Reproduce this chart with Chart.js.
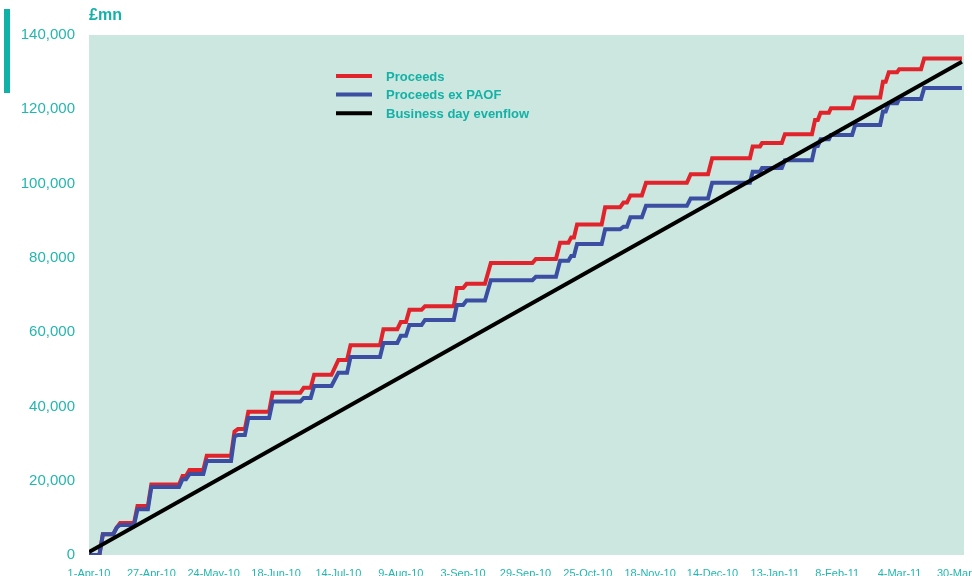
<!DOCTYPE html>
<html>
<head>
<meta charset="utf-8">
<script src="https://cdn.jsdelivr.net/npm/chart.js@4.4.1/dist/chart.umd.min.js"></script>
<style>
  html, body { margin: 0; padding: 0; background: #ffffff; }
  #wrap { width: 972px; height: 576px; }
</style>
</head>
<body>
<div id="wrap"><canvas id="chart" width="972" height="576"></canvas></div>
<script>
// Business-day axis: one label every 18 business days
const tickLabels = ['1-Apr-10', '27-Apr-10', '24-May-10', '18-Jun-10', '14-Jul-10', '9-Aug-10',
  '3-Sep-10', '29-Sep-10', '25-Oct-10', '18-Nov-10', '14-Dec-10', '13-Jan-11', '8-Feb-11',
  '4-Mar-11', '30-Mar-11'];
const tickEvery = 18;

// Cumulative proceeds (£mn), corner points of the step profile by business day
const stepDays = [0, 3, 4, 7, 8, 9, 13, 14, 17, 18, 26, 27, 28, 29, 33, 34, 41, 42, 43, 45, 46,
  52, 53, 61, 62, 64, 65, 70, 72, 74.5, 75.5, 84, 85, 89, 90, 91.5, 92.5, 96, 97, 105.3, 106.2,
  108, 109, 114.3, 116, 128, 129, 134.8, 136, 138.4, 139.2, 140, 140.9, 148, 149, 153.3, 154.3,
  155.3, 156.3, 159.6, 160.8, 172.6, 173.7, 178.7, 179.9, 190.8, 191.6, 193.7, 194.3, 200, 200.9,
  208.7, 209.6, 210.4, 211.2, 213.6, 214.2, 220.3, 221.2, 228.4, 229.2, 230, 230.9, 233.3, 233.9,
  240.2, 241.1, 252];

const proceeds = [0, 0, 5600, 5600, 7400, 8600, 8600, 13200, 13200, 19000, 19000, 21300, 21300,
  22900, 22900, 26700, 26700, 33200, 33900, 33900, 38600, 38600, 43700, 43700, 45000, 45000, 48500,
  48500, 52500, 52500, 56500, 56500, 60800, 60800, 62700, 62700, 66000, 66000, 67000, 67000, 71900,
  71900, 73000, 73000, 78600, 78600, 79700, 79700, 84100, 84100, 85500, 85500, 89000, 89000, 93600,
  93600, 94900, 94900, 96800, 96800, 100200, 100200, 102500, 102500, 106800, 106800, 110000, 110000,
  110900, 110900, 113300, 113300, 117100, 117100, 119100, 119100, 120300, 120300, 123200, 123200,
  127400, 127400, 130000, 130000, 130800, 130800, 133700, 133700];

const proceedsExPaof = [0, 0, 5600, 5600, 7400, 8100, 8100, 12300, 12300, 18300, 18300, 20400, 20400,
  21800, 21800, 25300, 25300, 31900, 32300, 32300, 36900, 36900, 41300, 41300, 42300, 42300, 45500,
  45500, 49100, 49100, 53300, 53300, 57100, 57100, 59000, 59000, 61900, 61900, 63300, 63300, 67300,
  67300, 68500, 68500, 74000, 74000, 74900, 74900, 79200, 79200, 80500, 80500, 83700, 83700, 87700,
  87700, 88400, 88400, 90900, 90900, 94000, 94000, 96000, 96000, 100200, 100200, 103200, 103200,
  104200, 104200, 106300, 106300, 110100, 110100, 111900, 111900, 113100, 113100, 115800, 115800,
  119400, 119400, 121600, 121600, 122800, 122800, 125700, 125700];

// Straight-line even flow across the business days
const evenflowDays = [0, 252];
const evenflow = [800, 132800];

const yTicks = { min: 0, max: 140000, step: 20000 };

const TEAL = '#14b1a7';
const TEAL_TICK = '#22b7ae';
const PLOT_BG = '#cbe7df';
const FONT = '"Liberation Sans", Arial, sans-serif';

const toPoints = (xs, ys) => xs.map((x, i) => ({ x: x, y: ys[i] }));

// Page furniture: plot background, side bar and unit label
const backdrop = {
  id: 'backdrop',
  beforeDraw(chart) {
    const { ctx, chartArea: a } = chart;
    ctx.save();
    ctx.fillStyle = '#ffffff';
    ctx.fillRect(0, 0, chart.width, chart.height);
    ctx.fillStyle = PLOT_BG;
    ctx.fillRect(a.left, a.top, a.right - a.left, a.bottom - a.top);
    ctx.fillStyle = '#10b2a8';
    ctx.fillRect(4, 9, 6, 84);
    ctx.fillStyle = TEAL;
    ctx.font = 'bold 16px ' + FONT;
    ctx.textAlign = 'left';
    ctx.textBaseline = 'middle';
    ctx.fillText('£mn', a.left, 16);
    ctx.restore();
  }
};

// Legend drawn inside the plot area
const innerLegend = {
  id: 'innerLegend',
  afterDatasetsDraw(chart) {
    const { ctx } = chart;
    ctx.save();
    ctx.font = 'bold 13px ' + FONT;
    ctx.textAlign = 'left';
    ctx.textBaseline = 'middle';
    chart.data.datasets.forEach((ds, i) => {
      const y = 76 + i * 18.6;
      ctx.strokeStyle = ds.borderColor;
      ctx.lineWidth = 4;
      ctx.beginPath();
      ctx.moveTo(336, y);
      ctx.lineTo(372, y);
      ctx.stroke();
      ctx.fillStyle = TEAL;
      ctx.fillText(ds.label, 386, y + 1);
    });
    ctx.restore();
  }
};

new Chart(document.getElementById('chart'), {
  type: 'line',
  data: {
    datasets: [
      {
        label: 'Proceeds',
        data: toPoints(stepDays, proceeds),
        borderColor: '#e1232b',
        borderWidth: 4,
        order: 2
      },
      {
        label: 'Proceeds ex PAOF',
        data: toPoints(stepDays, proceedsExPaof),
        borderColor: '#3b4ea2',
        borderWidth: 4,
        order: 1
      },
      {
        label: 'Business day evenflow',
        data: toPoints(evenflowDays, evenflow),
        borderColor: '#000000',
        borderWidth: 4,
        order: 0
      }
    ]
  },
  options: {
    responsive: false,
    animation: false,
    devicePixelRatio: 1,
    layout: { padding: { top: 35, right: 8, left: 0, bottom: 0 } },
    elements: {
      point: { radius: 0, hoverRadius: 0 },
      line: { tension: 0, fill: false, borderJoinStyle: 'miter' }
    },
    plugins: {
      legend: { display: false },
      tooltip: { enabled: false }
    },
    scales: {
      x: {
        type: 'linear',
        min: 0,
        max: 252.6,
        grid: { display: false },
        border: { display: false },
        afterBuildTicks(scale) {
          scale.ticks = tickLabels.map((_, i) => ({ value: i * tickEvery }));
        },
        afterFit(scale) {
          scale.height = 21;
          scale.paddingLeft = 0;
          scale.paddingRight = 0;
        },
        ticks: {
          autoSkip: false,
          maxRotation: 0,
          padding: 4,
          color: TEAL_TICK,
          font: { family: FONT, size: 11 },
          callback: (value, index) => tickLabels[index]
        }
      },
      y: {
        min: yTicks.min,
        max: yTicks.max,
        grid: { display: false },
        border: { display: false },
        afterFit(scale) {
          scale.width = 89;
        },
        ticks: {
          stepSize: yTicks.step,
          padding: 6,
          color: TEAL_TICK,
          font: { family: FONT, size: 15 },
          callback: (v) => v.toLocaleString('en-US')
        }
      }
    }
  },
  plugins: [backdrop, innerLegend]
});
</script>
</body>
</html>
